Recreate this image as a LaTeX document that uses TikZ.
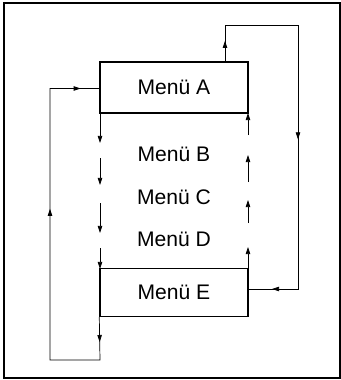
\documentclass[tikz,border=0pt]{standalone}
\usepackage{fontspec}
\setmainfont{Liberation Sans}
\usetikzlibrary{positioning, arrows.meta, decorations.markings}

\tikzset{
    menubox/.style={draw, line width=1.2pt, inner sep=0pt, minimum width=4.44cm, font=\fontsize{18}{20}\selectfont},
    menutext/.style={inner sep=0pt, font=\fontsize{18}{20}\selectfont},
}

\begin{document}
\begin{tikzpicture}[x=0.03cm, y=-0.03cm, >={Triangle[length=6pt, width=3.8pt]}, line width=0.6pt]
                \useasboundingbox (0, 0) rectangle (341, 380);
                \draw[line width=1pt] (4, 3) rectangle (340, 378);
                % menu boxes and items
                \node[menubox, minimum height=1.53cm] (menuA) at (174, 87.5) {Menü A};
                \node[menutext, below=2.01cm of menuA.center, anchor=center] (menuB) {Menü B};
                \node[menutext, below=1.29cm of menuB.center, anchor=center] (menuC) {Menü C};
                \node[menutext, below=1.26cm of menuC.center, anchor=center] (menuD) {Menü D};
                \node[menubox, minimum height=1.44cm, below=1.59cm of menuD.center, anchor=center] (menuE) {Menü E};
                % step down / step up
                \foreach \a/\b in {113/143, 158/185, 203/233, 248/269}
                    \draw[->] (100, \a) -- (100, \b);
                \foreach \a/\b in {269/247, 223/200, 182/155, 135/113}
                    \draw[->] (248, \a) -- (248, \b);
                % wrap around paths
                \coordinate (lowR) at (100, 360);
                \coordinate (lowL) at (50, 360);
                \coordinate (upL) at (50, 88.5);
                \draw[postaction={decorate}, decoration={markings,
                        mark=at position 0.06 with {\arrow{>}},
                        mark=at position 0.59 with {\arrow{>}},
                        mark=at position 0.955 with {\arrow{>}}}]
                    (menuE.south west) -- (lowR) -- (lowL) -- (upL) -- (menuA.west |- upL);
                \coordinate (outA) at (225, 62);
                \coordinate (topL) at (225, 25);
                \coordinate (topR) at (298, 25);
                \coordinate (inE) at (298, 289);
                \draw[postaction={decorate}, decoration={markings,
                        mark=at position 0.05 with {\arrow{>}},
                        mark=at position 0.53 with {\arrow{>}},
                        mark=at position 0.945 with {\arrow{>}}}]
                    (outA) -- (topL) -- (topR) -- (inE) -- (menuE.east |- inE);
            \end{tikzpicture}
\end{document}
